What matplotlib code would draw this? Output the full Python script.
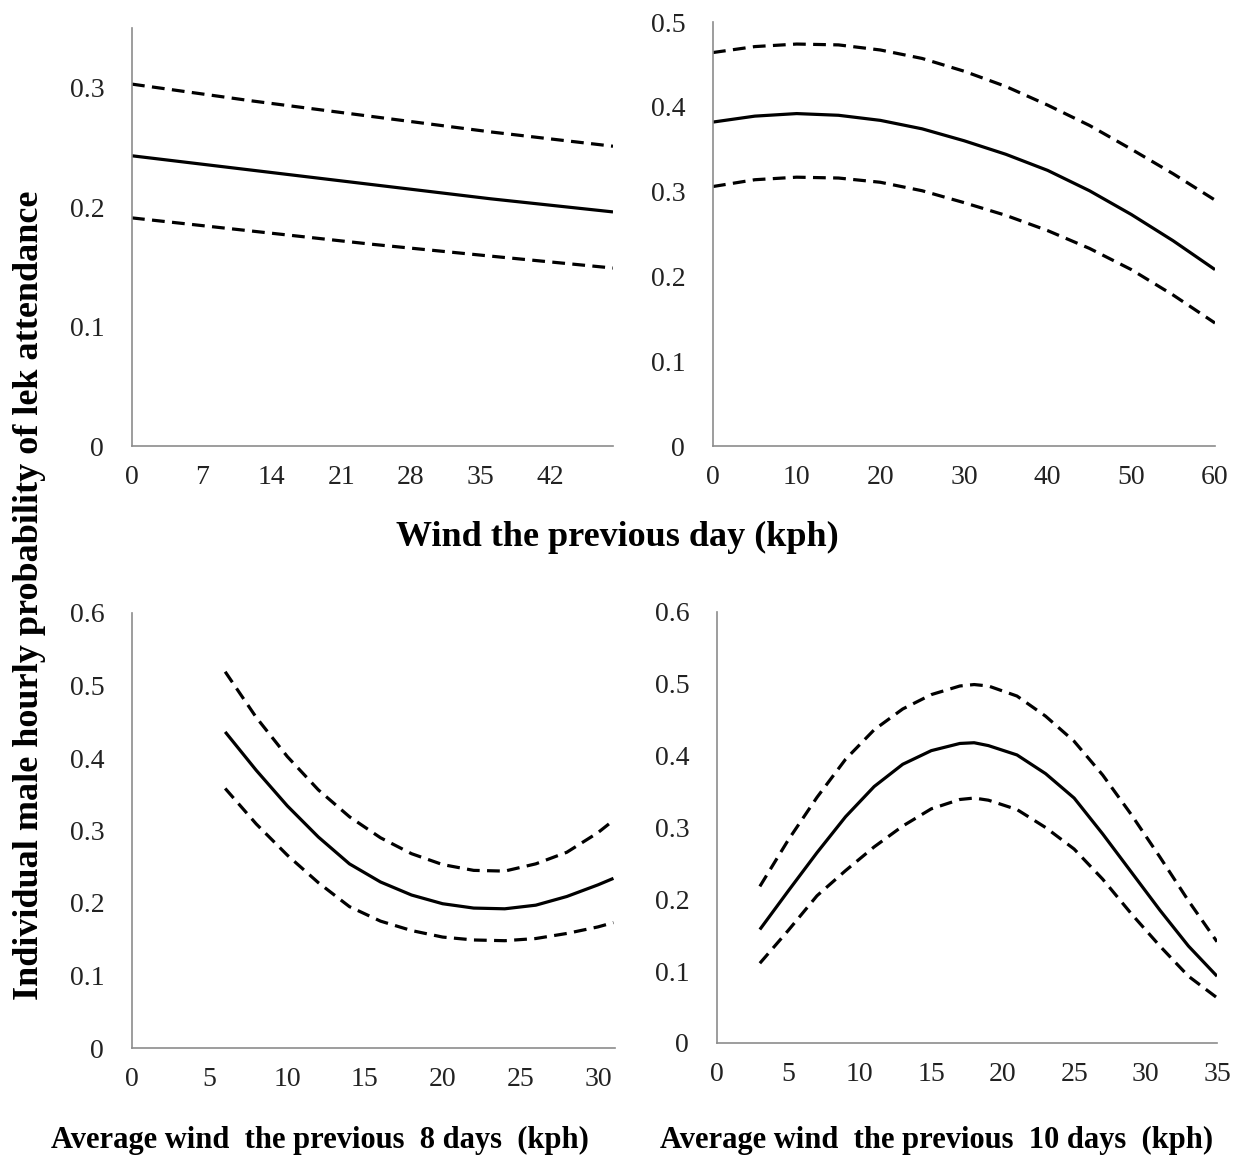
import matplotlib
matplotlib.use("Agg")
import matplotlib.pyplot as plt

plt.rcParams['font.family'] = ['Liberation Serif', 'DejaVu Serif']

# Wind the previous day (two panels)
day_x_a = [0, 12, 24, 36, 48.3]
day_fit_a = [0.243, 0.231, 0.219, 0.207, 0.196]
day_hi_a = [0.303, 0.289, 0.276, 0.263, 0.251]
day_lo_a = [0.191, 0.180, 0.169, 0.159, 0.149]

day_x_b = [0, 5, 10, 15, 20, 25, 30, 35, 40, 45, 50, 55, 60]
day_fit_b = [0.382, 0.389, 0.392, 0.390, 0.384, 0.374, 0.360, 0.344, 0.325, 0.301, 0.273, 0.242, 0.208]
day_hi_b = [0.464, 0.471, 0.474, 0.473, 0.467, 0.457, 0.442, 0.424, 0.402, 0.378, 0.350, 0.321, 0.290]
day_lo_b = [0.306, 0.314, 0.317, 0.316, 0.311, 0.301, 0.287, 0.272, 0.254, 0.233, 0.208, 0.178, 0.145]

# Average wind the previous 8 days
w8_x = [6, 8, 10, 12, 14, 16, 18, 20, 22, 24, 26, 28, 30, 31]
w8_fit = [0.436, 0.383, 0.334, 0.291, 0.254, 0.229, 0.211, 0.199, 0.193, 0.192, 0.197, 0.209, 0.225, 0.234]
w8_hi = [0.519, 0.456, 0.402, 0.356, 0.319, 0.290, 0.268, 0.253, 0.245, 0.244, 0.254, 0.270, 0.297, 0.314]
w8_lo = [0.358, 0.309, 0.266, 0.228, 0.195, 0.175, 0.162, 0.153, 0.149, 0.148, 0.151, 0.158, 0.167, 0.173]

# Average wind the previous 10 days
w10_x = [3, 5, 7, 9, 11, 13, 15, 17, 18, 19, 21, 23, 25, 27, 29, 31, 33, 35]
w10_fit = [0.158, 0.212, 0.265, 0.315, 0.357, 0.388, 0.407, 0.417, 0.418, 0.414, 0.401, 0.375, 0.341, 0.291, 0.238, 0.185, 0.135, 0.093]
w10_hi = [0.218, 0.283, 0.342, 0.395, 0.436, 0.465, 0.485, 0.497, 0.499, 0.497, 0.483, 0.455, 0.420, 0.373, 0.318, 0.259, 0.198, 0.141]
w10_lo = [0.111, 0.157, 0.205, 0.240, 0.273, 0.302, 0.326, 0.339, 0.341, 0.338, 0.325, 0.300, 0.270, 0.228, 0.180, 0.135, 0.093, 0.063]

W, H = 1248, 1162
fig = plt.figure(figsize=(W / 100, H / 100), dpi=100)


def make_axes(left, right, top, bottom):
    return fig.add_axes([left / W, 1 - bottom / H, (right - left) / W, (bottom - top) / H])


def draw(ax, x, fit, hi, lo, xlim, xticks, ylim, yticks):
    ax.plot(x, fit, color='black', lw=2.3, solid_capstyle='butt', solid_joinstyle='round')
    for s in (hi, lo):
        ax.plot(x, s, color='black', lw=2.3, dashes=(4, 2.3))
    ax.set_xlim(*xlim)
    ax.set_ylim(*ylim)
    ax.set_xticks(xticks)
    ax.set_yticks(yticks)
    ax.set_yticklabels(['0' if v == 0 else f'{v:.1f}' for v in yticks])
    for side in ('top', 'right'):
        ax.spines[side].set_visible(False)
    for side in ('left', 'bottom'):
        ax.spines[side].set_color('#8c8c8c')
        ax.spines[side].set_linewidth(1.2)
    ax.tick_params(length=0, labelsize=20, colors='#222222')
    ax.tick_params(axis='y', pad=20)
    ax.tick_params(axis='x', pad=14)


ax1 = make_axes(132, 613, 28, 446)
draw(ax1, day_x_a, day_fit_a, day_hi_a, day_lo_a, (0, 48.3), [0, 7, 14, 21, 28, 35, 42],
     (0, 0.35), [0, 0.1, 0.2, 0.3])

ax2 = make_axes(713, 1215, 22, 446)
draw(ax2, day_x_b, day_fit_b, day_hi_b, day_lo_b, (0, 60), [0, 10, 20, 30, 40, 50, 60],
     (0, 0.5), [0, 0.1, 0.2, 0.3, 0.4, 0.5])

ax3 = make_axes(132, 615, 613, 1048)
draw(ax3, w8_x, w8_fit, w8_hi, w8_lo, (0, 31.1), [0, 5, 10, 15, 20, 25, 30],
     (0, 0.6), [0, 0.1, 0.2, 0.3, 0.4, 0.5, 0.6])

ax4 = make_axes(717, 1217, 612, 1043)
draw(ax4, w10_x, w10_fit, w10_hi, w10_lo, (0, 35), [0, 5, 10, 15, 20, 25, 30, 35],
     (0, 0.6), [0, 0.1, 0.2, 0.3, 0.4, 0.5, 0.6])

fig.text(617 / W, 1 - 537 / H, 'Wind the previous day (kph)', ha='center', va='center',
         fontsize=26, fontweight='bold')
fig.text(320 / W, 1 - 1140 / H, 'Average wind  the previous  8 days  (kph)', ha='center',
         va='center', fontsize=22, fontweight='bold')
fig.text(937 / W, 1 - 1140 / H, 'Average wind  the previous  10 days  (kph)', ha='center',
         va='center', fontsize=22, fontweight='bold')
fig.text(30 / W, 1 - 595 / H, 'Individual male hourly probability of lek attendance',
         ha='center', va='center', rotation=90, fontsize=26, fontweight='bold')

plt.savefig('out.png', dpi=100)
